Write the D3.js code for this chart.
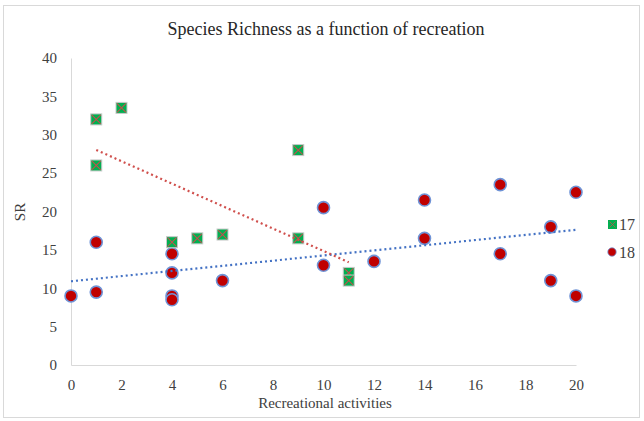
<!DOCTYPE html>
<html>
<head>
<meta charset="utf-8">
<script src="https://cdn.jsdelivr.net/npm/d3@7"></script>
<style>
  body { margin: 0; background: #fff; }
  text { font-family: "Liberation Serif", "Times New Roman", serif; fill: #404040; }
</style>
</head>
<body>
<div id="chart"></div>
<script>
// series values
const x17 = [1, 1, 2, 4, 5, 6, 9, 9, 11, 11];
const y17 = [32, 26, 33.5, 16, 16.5, 17, 28, 16.5, 12, 11];
const x18 = [0, 1, 1, 4, 4, 4, 4, 6, 10, 10, 12, 14, 14, 17, 17, 19, 19, 20, 20];
const y18 = [9, 16, 9.5, 14.5, 12, 9, 8.5, 11, 20.5, 13, 13.5, 21.5, 16.5, 23.5, 14.5, 18, 11, 22.5, 9];
const xTicks = [0, 2, 4, 6, 8, 10, 12, 14, 16, 18, 20];
const yTicks = [0, 5, 10, 15, 20, 25, 30, 35, 40];
const seriesNames = ['17', '18'];

const state = {
    width: 644,
    height: 421,
    left: 71,
    right: 576,
    top: 58,
    bottom: 365,
    axisColor: '#d9d9d9',
    green: '#00b050',
    red: '#c00000',
    blue: '#4472c4',
    trendRed: '#d0504d'
};

const svg = d3.select('#chart')
    .append('svg')
        .attr('width', state.width)
        .attr('height', state.height);

// chart frame
svg.append('rect')
    .attr('x', 3.5).attr('y', 5.5)
    .attr('width', 636).attr('height', 412)
    .attr('fill', '#fff')
    .attr('stroke', '#d9d9d9');

const x = d3.scaleLinear().domain([0, 20]).range([state.left, state.right]);
const y = d3.scaleLinear().domain([0, 40]).range([state.bottom, state.top]);

// axes
const xAxis = svg.append('g')
    .attr('transform', `translate(0,${state.bottom})`)
    .call(d3.axisBottom(x).tickValues(xTicks).tickSize(0).tickPadding(14));
const yAxis = svg.append('g')
    .attr('transform', `translate(${state.left},0)`)
    .call(d3.axisLeft(y).tickValues(yTicks).tickSize(0).tickPadding(14));

[xAxis, yAxis].forEach(function(g){
    g.select('.domain').attr('stroke', state.axisColor);
    g.selectAll('text')
        .attr('font-size', 15)
        .attr('font-family', '"Liberation Serif", serif')
        .attr('fill', '#404040');
});

// titles
svg.append('text')
    .attr('x', 326).attr('y', 34.5)
    .attr('text-anchor', 'middle')
    .attr('font-size', 18)
    .style('fill', '#262626')
    .text('Species Richness as a function of recreation');

svg.append('text')
    .attr('x', 325).attr('y', 407.5)
    .attr('text-anchor', 'middle')
    .attr('font-size', 15)
    .text('Recreational activities');

svg.append('text')
    .attr('transform', 'translate(25,212) rotate(-90)')
    .attr('text-anchor', 'middle')
    .attr('font-size', 15)
    .text('SR');

/**
Least squares line through the points, returned as two end points
*/
function trend(xs, ys){
    let mx = d3.mean(xs), my = d3.mean(ys);
    let sxy = d3.sum(xs, (d, i) => (d - mx) * (ys[i] - my));
    let sxx = d3.sum(xs, (d) => (d - mx) * (d - mx));
    let b = sxy / sxx, a = my - b * mx;
    let ext = d3.extent(xs);
    return ext.map((v) => [v, a + b * v]);
}

const line = d3.line()
    .x((d) => x(d[0]))
    .y((d) => y(d[1]));

// series 18 circles
const pts18 = x18.map((d, i) => [d, y18[i]]);
svg.selectAll('.c18')
    .data(pts18)
    .enter()
    .append('circle')
        .attr('class', 'c18')
        .attr('cx', (d) => x(d[0]))
        .attr('cy', (d) => y(d[1]))
        .attr('r', 6)
        .attr('fill', state.red)
        .attr('stroke', '#6f93d6')
        .attr('stroke-width', 1.6);

// series 17 squares with x
const pts17 = x17.map((d, i) => [d, y17[i]]);
const sq = svg.selectAll('.s17')
    .data(pts17)
    .enter()
    .append('g')
        .attr('class', 's17')
        .attr('transform', (d) => `translate(${x(d[0])},${y(d[1])})`);
sq.append('rect')
    .attr('x', -5.5).attr('y', -5.5)
    .attr('width', 11).attr('height', 11)
    .attr('fill', state.green)
    .attr('stroke', '#c9c9c9')
    .attr('stroke-width', 1);
sq.append('path')
    .attr('d', 'M-4.5,-4.5L4.5,4.5M4.5,-4.5L-4.5,4.5')
    .attr('stroke', '#c0504d')
    .attr('stroke-width', 1.1);

// trendlines (dotted)
svg.append('path')
    .datum(trend(x18, y18))
    .attr('d', line)
    .attr('fill', 'none')
    .attr('stroke', state.blue)
    .attr('stroke-width', 2.2)
    .attr('stroke-dasharray', '2,3');

svg.append('path')
    .datum(trend(x17, y17))
    .attr('d', line)
    .attr('fill', 'none')
    .attr('stroke', state.trendRed)
    .attr('stroke-width', 2.2)
    .attr('stroke-dasharray', '2,3');

// legend
const legend = svg.append('g');
legend.append('rect')
    .attr('x', 608).attr('y', 220)
    .attr('width', 9).attr('height', 9)
    .attr('fill', state.green);
legend.append('path')
    .attr('d', 'M609.5,221.5L615.5,227.5M615.5,221.5L609.5,227.5')
    .attr('stroke', '#c0504d')
    .attr('stroke-width', 0.8);
legend.append('circle')
    .attr('cx', 612).attr('cy', 252)
    .attr('r', 4.2)
    .attr('fill', state.red)
    .attr('stroke', '#6f93d6')
    .attr('stroke-width', 0.8);
legend.selectAll('.lt')
    .data(seriesNames)
    .enter()
    .append('text')
        .attr('class', 'lt')
        .attr('x', 619)
        .attr('y', (d, i) => 230 + i * 28)
        .attr('font-size', 16)
        .text((d) => d);
</script>
</body>
</html>
